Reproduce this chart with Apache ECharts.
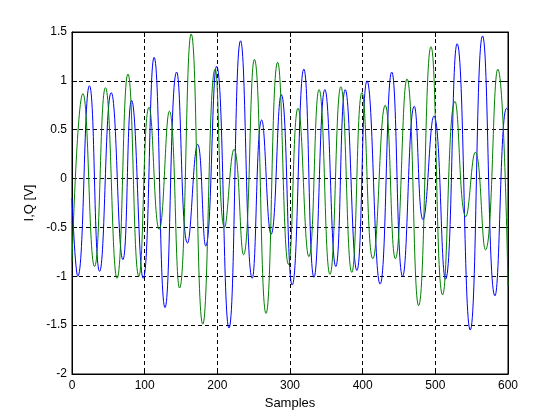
<!DOCTYPE html>
<html>
<head>
<meta charset="utf-8">
<script src="https://cdn.jsdelivr.net/npm/echarts@6/dist/echarts.min.js"></script>
<style>
  html, body { margin: 0; padding: 0; background: #fff; }
  #chart { width: 560px; height: 420px; }
</style>
</head>
<body>
<div id="chart"></div>
<script>
// peaks / troughs, [sample, volts]
var iSamples = [0, 8, 24, 38, 54, 70, 82, 98, 113, 128, 144, 159, 173, 184, 199, 216, 232, 248, 261, 274, 288, 303, 319, 333, 348, 363, 376, 392, 406, 424, 440, 455, 471, 483, 498, 514, 530, 548, 565, 582, 598, 600];
var iValues  = [-0.2, -1.0, 0.95, -0.95, 0.88, -0.83, 0.80, -1.02, 1.24, -1.32, 1.09, -0.66, 0.35, -0.69, 1.15, -1.53, 1.41, -1.02, 0.60, -0.57, 0.86, -1.09, 1.12, -1.01, 0.91, -0.90, 0.91, -0.94, 1.0, -1.08, 1.09, -1.0, 0.74, -0.42, 0.64, -1.03, 1.38, -1.55, 1.46, -1.20, 0.72, 0.70];

var qSamples = [0, 15, 31, 46, 62, 77, 92, 106, 120, 134, 148, 164, 180, 197, 210, 223, 236, 251, 267, 283, 298, 311, 326, 340, 355, 370, 385, 399, 414, 431, 445, 461, 477, 494, 510, 527, 542, 555, 569, 586, 600];
var qValues  = [-0.85, 0.87, -0.90, 0.93, -1.02, 1.07, -1.0, 0.73, -0.52, 0.69, -1.12, 1.48, -1.49, 1.12, -0.5, 0.30, -0.78, 1.22, -1.38, 1.19, -0.88, 0.72, -0.80, 0.91, -0.98, 0.94, -0.96, 0.88, -0.82, 0.75, -0.82, 1.02, -1.30, 1.35, -1.19, 0.79, -0.39, 0.27, -0.73, 1.12, -1.1];

function pairs(xs, ys) {
  return xs.map(function (x, i) { return [x, ys[i]]; });
}

var chart = echarts.init(document.getElementById('chart'));

var gridLine = { show: true, lineStyle: { color: '#000', type: [4, 3], width: 1 } };
var axisLine = { show: true, onZero: false, lineStyle: { color: '#000', width: 1 } };
var tick = { show: true, inside: true, length: 5, lineStyle: { color: '#000' } };
var lbl = { color: '#000', fontFamily: 'Liberation Sans', fontSize: 12 };
var nameStyle = { color: '#000', fontFamily: 'Liberation Sans', fontSize: 13 };

chart.setOption({
  backgroundColor: '#fff',
  animation: false,
  grid: { left: 72, right: 52, top: 32, bottom: 46, show: true, borderColor: '#000', borderWidth: 1 },
  xAxis: [
    {
      type: 'value', min: 0, max: 600, interval: 100,
      name: 'Samples', nameLocation: 'middle', nameGap: 21, nameTextStyle: nameStyle,
      axisLine: axisLine, axisTick: tick, splitLine: gridLine,
      axisLabel: Object.assign({ margin: 6 }, lbl)
    },
    {
      type: 'value', position: 'top', min: 0, max: 600, interval: 100,
      axisLine: axisLine, axisTick: tick, splitLine: { show: false }, axisLabel: { show: false }
    }
  ],
  yAxis: [
    {
      type: 'value', min: -2, max: 1.5, interval: 0.5,
      name: 'I,Q [V]', nameLocation: 'middle', nameGap: 28, nameTextStyle: nameStyle,
      axisLine: axisLine, axisTick: tick, splitLine: gridLine,
      axisLabel: Object.assign({ margin: 5 }, lbl)
    },
    {
      type: 'value', position: 'right', min: -2, max: 1.5, interval: 0.5,
      axisLine: axisLine, axisTick: tick, splitLine: { show: false }, axisLabel: { show: false }
    }
  ],
  series: [
    {
      name: 'I', type: 'line', data: pairs(iSamples, iValues),
      smooth: 0.5, showSymbol: false,
      lineStyle: { color: '#0000ff', width: 1 }, itemStyle: { color: '#0000ff' }
    },
    {
      name: 'Q', type: 'line', data: pairs(qSamples, qValues),
      smooth: 0.5, showSymbol: false,
      lineStyle: { color: '#008000', width: 1 }, itemStyle: { color: '#008000' }
    }
  ]
});
</script>
</body>
</html>
